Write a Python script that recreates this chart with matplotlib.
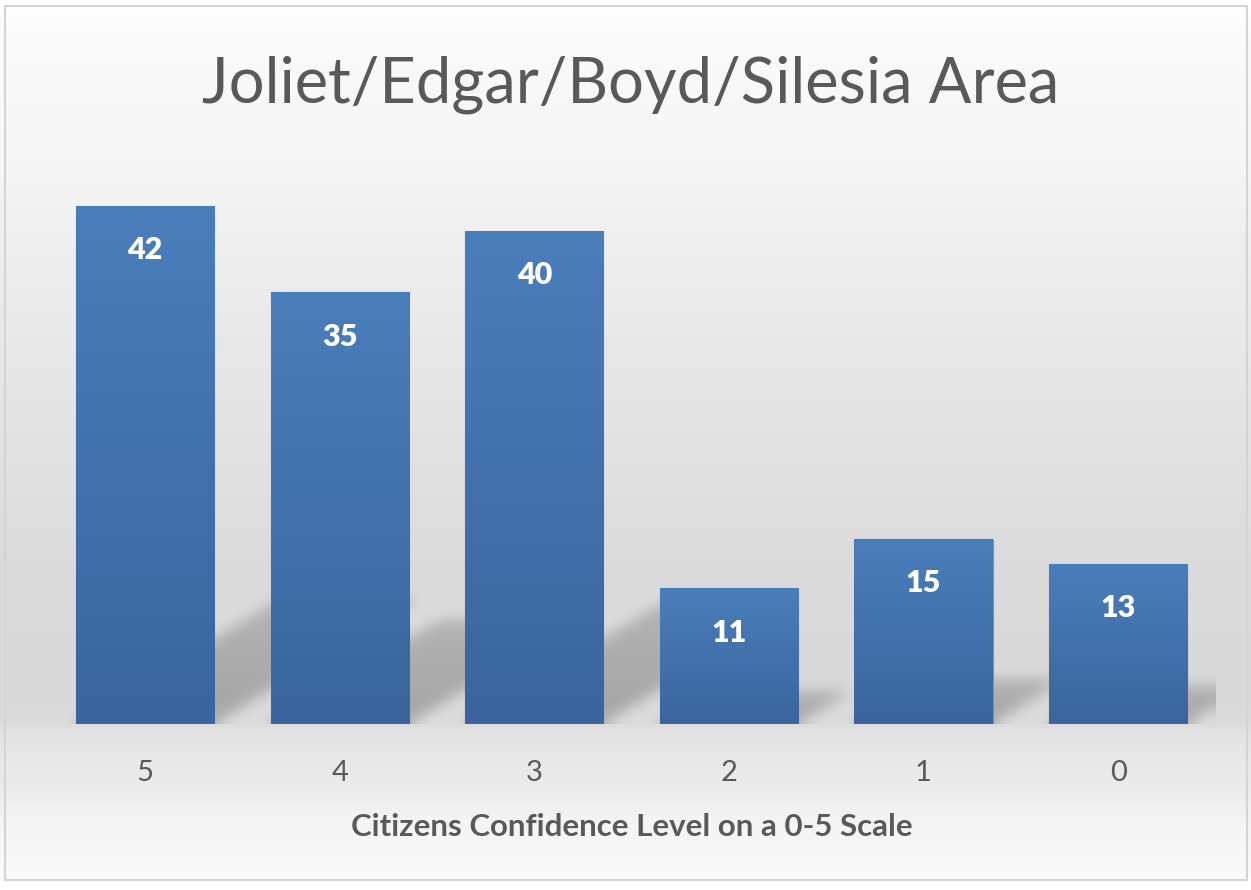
import numpy as np
import matplotlib
matplotlib.use("Agg")
import matplotlib.pyplot as plt
from matplotlib.patches import Rectangle

# chart data
levels = ['5', '4', '3', '2', '1', '0']
counts = [42, 35, 40, 11, 15, 13]
title = 'Joliet/Edgar/Boyd/Silesia Area'
xlabel = 'Citizens Confidence Level on a 0-5 Scale'

plt.rcParams['font.family'] = ['Lato', 'DejaVu Sans']

W, H = 1251, 890
fig = plt.figure(figsize=(W / 100, H / 100), dpi=100)

# background gradient of the chart area (pixel row -> grey level)
bg = fig.add_axes([0, 0, 1, 1], zorder=0)
stops_y = [0, 6, 40, 160, 230, 330, 450, 560, 700, 724, 736, 790, 820, 870, 880, 890]
stops_g = [255, 255, 250, 246, 240, 233, 226, 219, 217, 220, 228, 236, 244, 249, 255, 255]
rows = np.interp(np.arange(H), stops_y, stops_g) / 255.0
grad = np.repeat(rows[:, None], 3, axis=1)[:, None, :]
bg.imshow(grad, aspect='auto', extent=[0, 1, 0, 1], origin='upper')
bg.set_axis_off()
fig.patches.append(Rectangle((5 / W, 1 - 880 / H), 1242 / W, 874 / H,
                             transform=fig.transFigure, fill=False,
                             edgecolor='#d4d4d4', linewidth=1.5, zorder=1))

ax = fig.add_axes([47.7 / W, 1 - 724 / H, 1167.7 / W, 555 / H], zorder=2)
ax.patch.set_alpha(0)
x = np.arange(len(levels))
bw = 0.71
ax.set_xlim(-0.5, len(levels) - 0.5)
ax.set_ylim(0, 45)

# soft perspective shadows behind the bars
nx, ny = 1168, 555
gx = np.linspace(-0.5, len(levels) - 0.5, nx)
gy = np.linspace(0, 45, ny)
XX, YY = np.meshgrid(gx, gy)
shade = np.zeros((ny, nx))
k = 0.103
for xi, v in zip(x, counts):
    top = 0.24 * v
    inside = (np.abs(XX - (xi + YY * k)) <= bw / 2) & (YY <= top)
    shade = np.maximum(shade, inside * (0.24 - 0.06 * YY / top))


def box_blur(a, r, axis):
    pad = [(0, 0), (0, 0)]
    pad[axis] = (r + 1, r)
    c = np.cumsum(np.pad(a, pad, mode='edge'), axis=axis)
    n = a.shape[axis]
    hi = np.take(c, np.arange(2 * r + 1, 2 * r + 1 + n), axis=axis)
    lo = np.take(c, np.arange(0, n), axis=axis)
    return (hi - lo) / (2 * r + 1)


for _ in range(3):
    shade = box_blur(shade, 6, 0)
    shade = box_blur(shade, 6, 1)
rgba = np.zeros((ny, nx, 4))
rgba[..., 3] = shade
ax.imshow(rgba, origin='lower', aspect='auto',
          extent=[-0.5, len(levels) - 0.5, 0, 45], zorder=1)

bars = ax.bar(x, counts, width=bw, color='#4372ad', edgecolor='#6b93c7',
              linewidth=0.8, zorder=2)

# vertical gradient inside each bar
top_c = np.array([74, 126, 186]) / 255.0
bot_c = np.array([58, 101, 158]) / 255.0
t = np.linspace(0, 1, 256)[:, None]
bar_grad = (bot_c * (1 - t) + top_c * t)[:, None, :]
for b in bars:
    im = ax.imshow(bar_grad, origin='lower', aspect='auto', zorder=3,
                   extent=[b.get_x(), b.get_x() + b.get_width(), 0, b.get_height()])
    im.set_clip_path(b)

for b, v in zip(bars, counts):
    ax.annotate(str(v), (b.get_x() + b.get_width() / 2, v), xytext=(0, -32),
                textcoords='offset points', ha='center', va='center',
                color='white', fontsize=22, fontweight='heavy', zorder=4)

ax.set_xticks(x)
ax.set_xticklabels(levels)
ax.tick_params(axis='x', length=0, pad=26, labelsize=21, labelcolor='#595959')
ax.set_yticks([])
for s in ax.spines.values():
    s.set_visible(False)

ax.set_xlabel(xlabel, fontsize=22.5, fontweight='bold', color='#595959')
ax.xaxis.set_label_coords(0.5, -112 / 555)
ax.xaxis.label.set_va('baseline')

fig.text(631 / W, 1 - 103 / H, title, ha='center', va='baseline',
         fontsize=45.5, fontweight='normal', color='#595959')

fig.savefig('out.png', dpi=100)
